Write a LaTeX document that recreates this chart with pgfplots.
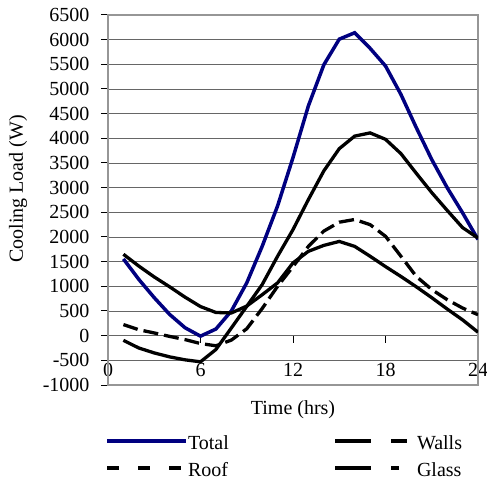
\documentclass[border=0pt]{standalone}
\usepackage{fontspec}
\setmainfont{Liberation Serif}
\usepackage{pgfplots}
\usepackage{pgfplotstable}
\pgfplotsset{compat=1.18}
\definecolor{totblue}{RGB}{0,0,128}
\definecolor{framegray}{RGB}{150,150,150}
\newcommand\fs{\fontsize{20bp}{24bp}\selectfont}

\pgfplotstableread{
h total walls roof glass
1 1556 1650 225 -95
2 1140 1410 120 -250
3 770 1190 55 -350
4 430 990 -15 -430
5 160 780 -80 -490
6 -10 590 -160 -530
7 135 470 -205 -280
8 500 460 -90 155
9 1070 600 140 595
10 1810 830 550 1035
11 2630 1070 1000 1610
12 3610 1475 1400 2150
13 4660 1710 1810 2760
14 5490 1830 2120 3340
15 6010 1910 2300 3790
16 6140 1810 2355 4045
17 5825 1610 2250 4110
18 5467 1400 2015 3980
19 4890 1200 1610 3690
20 4215 990 1200 3290
21 3570 770 935 2900
22 3000 540 730 2540
23 2490 320 560 2190
24 1950 70 425 1980
}\loadtable

\begin{document}
\begin{tikzpicture}
\useasboundingbox (0,0) rectangle (487bp,480bp);
% zero x axis with ticks
\begin{axis}[
  at={(108bp,95bp)}, anchor=south west, scale only axis,
  width=370bp, height=370bp,
  xmin=0, xmax=24, ymin=-1000, ymax=6500,
  axis x line=middle, axis y line=none,
  x axis line style={-, black, line width=1bp},
  xtick={0,6,12,18,24}, ytick=\empty,
  tick align=outside, major tick length=7bp,
  xtick style={black, line width=1bp},
  hide obscured x ticks=false,
  xticklabel style={font=\fs, yshift=-17bp},
  /pgf/number format/assume math mode=true,
]
\end{axis}
\begin{axis}[
  at={(108bp,95bp)}, anchor=south west, scale only axis,
  width=370bp, height=370bp,
  xmin=0, xmax=24, ymin=-1000, ymax=6500,
  axis line style={framegray, line width=1.6bp},
  xtick=\empty,
  ytick={-1000,-500,...,6500},
  ytick pos=left, tick align=outside, major tick length=7bp,
  ytick style={black, line width=1bp},
  ymajorgrids, grid style={black!60, line width=0.8bp},
  yticklabel style={font=\fs, xshift=-8bp},
  /pgf/number format/assume math mode=true,
  /pgf/number format/set thousands separator={},
  ylabel={Cooling Load (W)}, xlabel={Time (hrs)},
  every axis y label/.style={at={(axis description cs:-0.243,0.53)}, rotate=90, anchor=center, font=\fs},
  every axis x label/.style={at={(axis description cs:0.5,-0.068)}, anchor=center, font=\fs},
  legend columns=2,
  legend cell align=left,
  legend style={at={(axis description cs:-0.0081,-0.127)}, anchor=north west,
    draw=none, fill=none, inner sep=0pt, outer sep=0pt, row sep=9bp,
    font=\fs, nodes={inner sep=0pt, text height=18bp, text depth=0bp},
    /tikz/every even column/.append style={column sep=0pt},
    /tikz/every odd column/.append style={column sep=0pt}},
]
\addplot[totblue, line width=3.5bp, legend image code/.code={
  \path[draw=none, fill=none] (0bp,-4bp) rectangle (81bp,4bp);
  \draw[totblue, line width=3.5bp, solid] (0bp,0bp) -- (79bp,0bp);}]
  table[x=h, y=total] {\loadtable};
\addlegendentry{\makebox[145bp][l]{Total}}
\addplot[black, line width=3.3bp, legend image code/.code={
  \path[draw=none, fill=none] (0bp,-4bp) rectangle (82bp,4bp);
  \draw[black, line width=4bp, dash pattern=on 36bp off 20bp on 16bp off 20bp] (0bp,0bp) -- (72bp,0bp);}]
  table[x=h, y=walls] {\loadtable};
\addlegendentry{Walls}
\addplot[black, line width=3.3bp, dash pattern=on 15bp off 6bp, legend image code/.code={
  \path[draw=none, fill=none] (0bp,-4bp) rectangle (81bp,4bp);
  \draw[black, line width=4bp, dash pattern=on 12bp off 19bp] (0bp,0bp) -- (74bp,0bp);}]
  table[x=h, y=roof] {\loadtable};
\addlegendentry{\makebox[145bp][l]{Roof}}
\addplot[black, line width=3.3bp, legend image code/.code={
  \path[draw=none, fill=none] (0bp,-4bp) rectangle (82bp,4bp);
  \draw[black, line width=4bp, dash pattern=on 36bp off 20bp on 8bp off 20bp] (0bp,0bp) -- (72bp,0bp);}]
  table[x=h, y=glass] {\loadtable};
\addlegendentry{Glass}
\end{axis}
\end{tikzpicture}
\end{document}
